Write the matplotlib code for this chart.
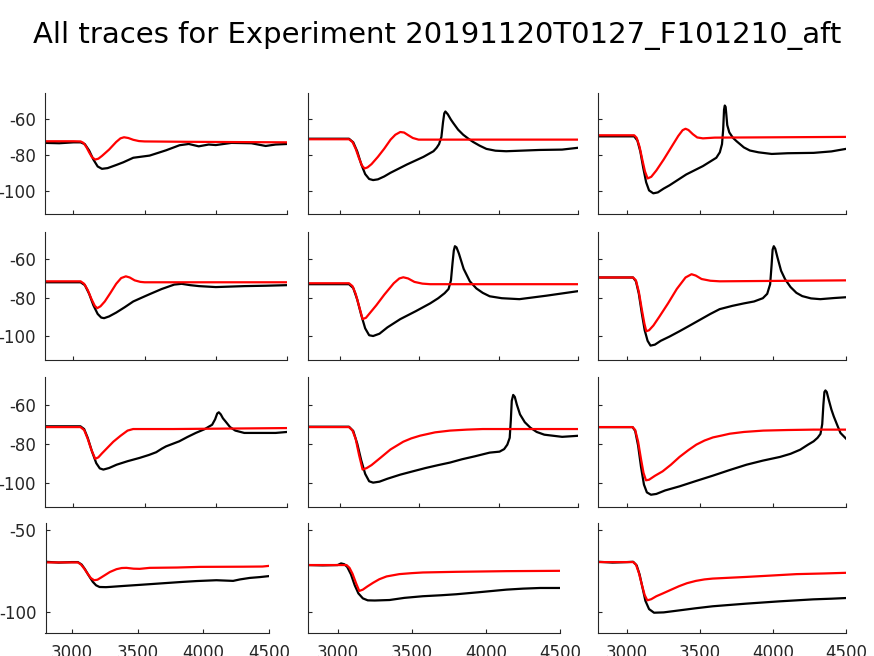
import matplotlib
matplotlib.use("Agg")
import matplotlib.pyplot as plt

plt.rcParams['font.family'] = ['DejaVu Sans']
plt.rcParams['axes.unicode_minus'] = False

TITLE = "All traces for Experiment 20191120T0127_F101210_aft"
x_ticks = [3000, 3500, 4000, 4500]
y_ticks_upper = [-100, -80, -60]
y_ticks_lower = [-100, -50]
x_limits = (2800, 4500)
y_limits = (-112.5, -45.8)

# ---- Panel data (row, col): black = recorded trace, red = model trace ----
p11_bx = [2800, 2900, 3000, 3050, 3080, 3110, 3140, 3170, 3200, 3240, 3300, 3350, 3420, 3535, 3650, 3745, 3810, 3880, 3950, 4000, 4110, 4250, 4350, 4420, 4500]
p11_by = [-73.3, -73.5, -73, -73, -74, -77.5, -82.5, -86.3, -87.6, -87.2, -85.5, -84, -81.5, -80.3, -77.4, -74.6, -73.9, -75.2, -74.2, -74.5, -73.3, -73.5, -75, -74.2, -73.9]
p11_rx = [2800, 3000, 3050, 3070, 3090, 3110, 3130, 3153, 3175, 3200, 3250, 3300, 3330, 3355, 3385, 3420, 3460, 3500, 3800, 4500]
p11_ry = [-72.4, -72.4, -72.5, -73.3, -75.5, -78.5, -81.2, -82.5, -82, -80.5, -77, -72.8, -70.8, -70.2, -70.6, -71.6, -72.3, -72.5, -72.7, -73]

p12_bx = [2800, 3000, 3058, 3085, 3110, 3135, 3160, 3185, 3210, 3240, 3280, 3319, 3423, 3527, 3590, 3610, 3625, 3640, 3650, 3658, 3665, 3680, 3700, 3715, 3745, 3777, 3810, 3840, 3880, 3923, 3980, 4048, 4256, 4400, 4500]
p12_by = [-71, -71, -71, -73, -78, -85, -90.5, -93.2, -93.8, -93.4, -91.8, -89.8, -85.2, -81, -77.9, -76, -74, -70, -62, -57, -56, -57.5, -60.5, -62.4, -66, -68.8, -71, -72.8, -74.8, -76.6, -77.6, -77.9, -77.2, -77, -76]
p12_rx = [2800, 3058, 3080, 3100, 3120, 3140, 3156, 3175, 3200, 3240, 3280, 3320, 3350, 3381, 3405, 3430, 3460, 3496, 4500]
p12_ry = [-71.3, -71.3, -72.8, -76.5, -81.5, -85.8, -87.4, -86.8, -85, -81, -76.5, -71.5, -68.8, -67.3, -67.6, -69, -70.6, -71.5, -71.5]

p13_bx = [2800, 3048, 3070, 3090, 3110, 3130, 3150, 3179, 3210, 3250, 3290, 3405, 3519, 3611, 3635, 3650, 3658, 3664, 3669, 3675, 3680, 3686, 3700, 3725, 3750, 3800, 3841, 3900, 3991, 4100, 4278, 4400, 4500]
p13_by = [-69.7, -69.7, -72, -78, -87, -95, -99.5, -101.1, -100.6, -98.5, -96.7, -90.7, -86.1, -81.5, -78.5, -74, -66, -55, -52.7, -53.5, -58, -63.5, -67.5, -70.5, -72.4, -75.8, -77.5, -78.5, -79.4, -79, -78.8, -78, -76.6]
p13_rx = [2800, 3048, 3065, 3085, 3105, 3122, 3140, 3165, 3200, 3250, 3300, 3350, 3380, 3400, 3420, 3450, 3480, 3519, 3600, 4500]
p13_ry = [-69.1, -69.1, -70.5, -75.5, -83, -89, -92.9, -92, -88.5, -82.5, -76, -69.5, -66.3, -65.5, -66.2, -68.5, -70.3, -70.8, -70.4, -70]

p21_bx = [2800, 3000, 3050, 3080, 3110, 3140, 3170, 3195, 3215, 3250, 3300, 3360, 3420, 3480, 3535, 3620, 3708, 3760, 3820, 3882, 4000, 4200, 4350, 4500]
p21_by = [-72, -72, -72, -73.5, -78, -84, -88.5, -90.4, -90.7, -89.8, -87.8, -85, -82, -80, -78.2, -75.5, -73.2, -72.8, -73.5, -74, -74.5, -74, -73.8, -73.5]
p21_rx = [2800, 3050, 3075, 3100, 3125, 3150, 3167, 3190, 3220, 3260, 3300, 3335, 3368, 3395, 3430, 3470, 3500, 4500]
p21_ry = [-71.5, -71.5, -72.8, -76, -80.5, -84.3, -85.5, -84.5, -82, -77.5, -72.8, -69.8, -68.9, -69.5, -71, -71.8, -72, -72]

p22_bx = [2800, 3058, 3085, 3110, 3135, 3160, 3185, 3210, 3250, 3300, 3381, 3480, 3569, 3620, 3660, 3685, 3700, 3710, 3718, 3725, 3735, 3750, 3780, 3819, 3860, 3900, 3944, 4020, 4131, 4300, 4494]
p22_by = [-73, -73, -75, -81, -89, -96, -99.6, -100, -98.8, -95.5, -91.2, -87, -83, -80.3, -77.7, -75.5, -71, -62, -55.5, -53.2, -53.8, -57, -65, -71.5, -75.2, -77.5, -79.3, -80.3, -80.8, -79, -76.7]
p22_rx = [2800, 3058, 3080, 3100, 3120, 3144, 3165, 3190, 3230, 3280, 3340, 3375, 3400, 3430, 3470, 3520, 3569, 4500]
p22_ry = [-72.5, -72.5, -74, -78, -84, -91.2, -90.5, -88, -84, -78.5, -72.5, -70, -69.4, -70, -71.8, -72.7, -73, -73]

p23_bx = [2800, 3040, 3060, 3080, 3100, 3120, 3140, 3160, 3190, 3230, 3290, 3359, 3430, 3500, 3570, 3634, 3720, 3800, 3870, 3930, 3960, 3980, 3990, 3997, 4005, 4015, 4030, 4055, 4083, 4120, 4160, 4200, 4260, 4324, 4420, 4500]
p23_by = [-69.5, -69.5, -71.5, -78, -88, -97, -102.5, -105, -104.5, -102.5, -100.3, -97.5, -94.5, -91.5, -88.5, -86, -84.3, -83, -82, -80.3, -78, -73, -63, -55, -53.2, -54.5, -59, -66, -70.5, -74.5, -77.5, -79.2, -80.4, -80.8, -80.2, -79.8]
p23_rx = [2800, 3040, 3060, 3080, 3100, 3118, 3131, 3150, 3180, 3220, 3280, 3340, 3400, 3441, 3470, 3510, 3570, 3634, 4500]
p23_ry = [-69.5, -69.5, -71, -77, -86, -93.5, -97.5, -97, -94.5, -90, -83, -75.5, -69.5, -67.8, -68.5, -70.3, -71.2, -71.5, -71]

p31_bx = [2800, 3049, 3075, 3100, 3130, 3160, 3185, 3210, 3250, 3303, 3380, 3465, 3530, 3581, 3620, 3650, 3700, 3743, 3800, 3859, 3920, 3974, 3995, 4010, 4021, 4035, 4050, 4067, 4100, 4137, 4200, 4299, 4420, 4500]
p31_by = [-71.1, -71.1, -72.5, -77, -84, -90, -92.7, -93.3, -92.5, -90.8, -89, -87.3, -85.8, -84.4, -82.6, -81.4, -80, -78.8, -76.6, -74.5, -72.6, -70.3, -67.5, -64.5, -63.9, -65, -67, -68.5, -71.5, -73.3, -74.5, -74.5, -74.5, -74]
p31_rx = [2800, 3049, 3075, 3100, 3125, 3153, 3175, 3200, 3240, 3280, 3330, 3380, 3419, 3700, 4500]
p31_ry = [-71.5, -71.5, -73, -77.5, -83, -87.8, -87, -85, -82, -79, -76, -73.3, -72.5, -72.5, -72]

p32_bx = [2800, 3058, 3085, 3110, 3135, 3160, 3185, 3210, 3250, 3300, 3381, 3460, 3540, 3620, 3694, 3770, 3850, 3944, 4006, 4035, 4055, 4070, 4077, 4083, 4092, 4102, 4115, 4135, 4165, 4200, 4240, 4288, 4400, 4494]
p32_by = [-71.3, -71.3, -73.5, -80, -88.5, -95.5, -99.3, -100, -99.5, -98, -95.9, -94.2, -92.5, -91, -89.7, -88, -86.5, -84.6, -84.1, -82.8, -80.5, -77, -68, -58, -55, -56, -60, -65, -69, -71.8, -74, -75.4, -76.5, -76]
p32_rx = [2800, 3058, 3080, 3100, 3122, 3144, 3170, 3200, 3260, 3319, 3400, 3450, 3506, 3600, 3694, 3800, 3900, 4500]
p32_ry = [-71.5, -71.5, -73.2, -77.5, -86, -93.3, -92.5, -91, -87, -83, -79, -77.3, -75.9, -74.2, -73.3, -72.8, -72.5, -72.5]

p33_bx = [2800, 3037, 3055, 3075, 3095, 3115, 3135, 3163, 3200, 3260, 3359, 3470, 3588, 3700, 3818, 3930, 4048, 4120, 4186, 4240, 4278, 4305, 4325, 4337, 4345, 4352, 4359, 4368, 4380, 4400, 4416, 4440, 4462, 4500]
p33_by = [-71.5, -71.5, -73.5, -81, -92, -101, -105, -106.2, -105.8, -104, -101.9, -99.2, -96.4, -93.6, -90.8, -88.7, -86.8, -85.2, -83.1, -80.5, -78.8, -77, -75, -70, -60, -53.5, -52.7, -53.5, -57, -62.5, -66, -70.5, -74.5, -77.4]
p33_rx = [2800, 3037, 3055, 3075, 3095, 3112, 3129, 3150, 3190, 3243, 3300, 3359, 3420, 3474, 3530, 3588, 3650, 3703, 3800, 3933, 4100, 4278, 4500]
p33_ry = [-71.5, -71.5, -73, -79, -88, -95, -98.8, -98.5, -96.5, -94.2, -90.8, -86.8, -83.3, -80.5, -78.4, -76.8, -75.8, -74.9, -74, -73.3, -73, -72.8, -72.8]

p41_bx = [2800, 2900, 3000, 3046, 3075, 3100, 3130, 3160, 3185, 3211, 3260, 3300, 3388, 3500, 3592, 3700, 3846, 3950, 4100, 4227, 4280, 4354, 4430, 4500]
p41_by = [-69.3, -69.8, -69.5, -69.5, -71, -73.8, -77.8, -81.5, -83.6, -84.6, -84.7, -84.5, -84, -83.4, -82.9, -82.3, -81.5, -81, -80.5, -80.9, -80, -79.1, -78.6, -78]
p41_rx = [2800, 3046, 3070, 3095, 3120, 3145, 3170, 3195, 3220, 3250, 3290, 3340, 3380, 3416, 3470, 3517, 3592, 3800, 3973, 4300, 4450, 4500]
p41_ry = [-69.7, -69.7, -71, -73.5, -76.5, -79.2, -80.5, -80.2, -79, -77.5, -75.5, -73.8, -73.1, -73, -73.5, -73.6, -73, -72.8, -72.4, -72.3, -72.2, -71.8]

p42_bx = [2800, 2900, 3000, 3023, 3045, 3065, 3090, 3115, 3140, 3170, 3203, 3250, 3350, 3450, 3575, 3700, 3801, 3950, 4139, 4250, 4365, 4500]
p42_by = [-71.3, -71.5, -71.3, -70.3, -70.8, -72.5, -77, -83.5, -88.5, -91.5, -92.7, -92.8, -92.5, -91.2, -90.2, -89.6, -89, -87.8, -86.2, -85.6, -85.2, -85.2]
p42_rx = [2800, 3060, 3080, 3100, 3125, 3146, 3170, 3200, 3240, 3281, 3330, 3416, 3500, 3575, 3800, 4139, 4500]
p42_ry = [-71.3, -71.3, -73, -76.5, -82.5, -87, -86.2, -84.3, -82, -79.9, -78.2, -76.8, -76.2, -75.8, -75.4, -75, -74.8]

p43_bx = [2800, 2900, 3000, 3041, 3065, 3085, 3105, 3125, 3150, 3184, 3250, 3356, 3470, 3586, 3700, 3816, 3930, 4045, 4160, 4275, 4400, 4500]
p43_by = [-69.3, -69.8, -69.5, -69.3, -71.5, -77, -85, -93, -98, -100.2, -100, -98.8, -97.5, -96.3, -95.5, -94.7, -94, -93.3, -92.7, -92.1, -91.7, -91.3]
p43_rx = [2800, 3041, 3060, 3080, 3100, 3120, 3138, 3165, 3200, 3242, 3300, 3356, 3410, 3471, 3530, 3586, 3700, 3816, 4000, 4161, 4350, 4500]
p43_ry = [-69.5, -69.5, -71, -76, -83, -89.5, -92.7, -92, -90.2, -88.6, -86.3, -84.1, -82.3, -80.9, -80, -79.5, -79, -78.5, -77.6, -76.8, -76.4, -76]

panels = {
    (0, 0): (p11_bx, p11_by, p11_rx, p11_ry),
    (0, 1): (p12_bx, p12_by, p12_rx, p12_ry),
    (0, 2): (p13_bx, p13_by, p13_rx, p13_ry),
    (1, 0): (p21_bx, p21_by, p21_rx, p21_ry),
    (1, 1): (p22_bx, p22_by, p22_rx, p22_ry),
    (1, 2): (p23_bx, p23_by, p23_rx, p23_ry),
    (2, 0): (p31_bx, p31_by, p31_rx, p31_ry),
    (2, 1): (p32_bx, p32_by, p32_rx, p32_ry),
    (2, 2): (p33_bx, p33_by, p33_rx, p33_ry),
    (3, 0): (p41_bx, p41_by, p41_rx, p41_ry),
    (3, 1): (p42_bx, p42_by, p42_rx, p42_ry),
    (3, 2): (p43_bx, p43_by, p43_rx, p43_ry),
}

W, H = 874, 656
fig = plt.figure(figsize=(W / 100, H / 100), dpi=100)

# pixel boxes (left, right) per column, (top, bottom) per row
cols_upper = [(45, 287), (308, 578), (598, 846)]
cols_lower = [(45.5, 269), (308, 560), (598, 846)]
rows = [(93, 214), (232, 360), (377, 507), (523, 633)]

GRAY = '#262626'
for (r, c), (bx, by, rx, ry) in panels.items():
    xl, xr = (cols_lower if r == 3 else cols_upper)[c]
    yt, yb = rows[r]
    ax = fig.add_axes([xl / W, 1 - yb / H, (xr - xl) / W, (yb - yt) / H])
    ax.plot(bx, by, color='black', lw=1.6, solid_joinstyle='round')
    ax.plot(rx, ry, color='#ff0000', lw=1.6, solid_joinstyle='round')
    ax.set_xlim(*x_limits)
    ax.set_ylim(*y_limits)
    ax.set_xticks(x_ticks)
    ax.set_yticks(y_ticks_lower if r == 3 else y_ticks_upper)
    for s in ['top', 'right']:
        ax.spines[s].set_visible(False)
    for s in ['left', 'bottom']:
        ax.spines[s].set_color(GRAY)
        ax.spines[s].set_linewidth(0.8)
    ax.tick_params(direction='in', length=3, width=0.8, color=GRAY,
                   labelcolor=GRAY, labelsize=12)
    ax.tick_params(axis='y', pad=6.5)
    ax.tick_params(axis='x', pad=8)
    if c != 0:
        ax.set_yticklabels([])
    if r != 3:
        ax.set_xticklabels([])

fig.text(0.5, 1 - 35 / H, TITLE, ha='center', va='center', fontsize=21, color='black')

fig.savefig('out.png', dpi=100)
